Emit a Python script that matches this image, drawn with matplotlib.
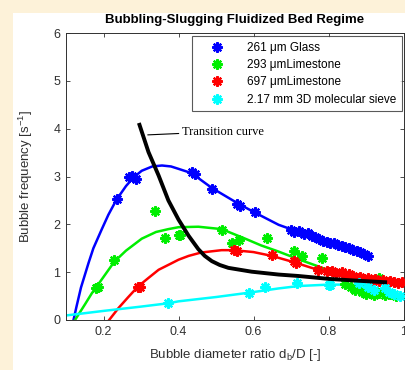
import matplotlib
matplotlib.use('Agg')
import matplotlib.pyplot as plt
from matplotlib.patches import Rectangle

# medidas (marcadores) por material
glass_x = [0.235, 0.268, 0.275, 0.286, 0.435, 0.445, 0.489, 0.555, 0.565, 0.605,
           0.700, 0.707, 0.720, 0.735, 0.745, 0.755, 0.765, 0.775, 0.785, 0.795,
           0.805, 0.815, 0.825, 0.835, 0.845, 0.855, 0.865, 0.875, 0.885, 0.895, 0.905]
glass_y = [2.54, 3.00, 3.02, 2.95, 3.09, 3.06, 2.74, 2.42, 2.38, 2.25,
           1.88, 1.84, 1.86, 1.80, 1.82, 1.76, 1.74, 1.70, 1.66, 1.64,
           1.62, 1.60, 1.56, 1.54, 1.52, 1.50, 1.46, 1.44, 1.42, 1.38, 1.34]

lime293_x = [0.179, 0.184, 0.229, 0.338, 0.364, 0.400, 0.405, 0.515, 0.543, 0.560,
             0.635, 0.707, 0.729, 0.782, 0.845, 0.860, 0.860, 0.870, 0.880, 0.890,
             0.900, 0.910, 0.920, 0.935, 0.935, 0.950, 0.965, 0.980]
lime293_y = [0.67, 0.70, 1.26, 2.28, 1.71, 1.77, 1.78, 1.89, 1.62, 1.68,
             1.72, 1.44, 1.33, 1.30, 0.75, 0.68, 0.92, 0.62, 0.70, 0.58,
             0.55, 0.60, 0.52, 0.56, 0.87, 0.52, 0.55, 0.50]

lime697_x = [0.292, 0.296, 0.547, 0.555, 0.649, 0.707, 0.712, 0.773, 0.795, 0.809,
             0.820, 0.835, 0.845, 0.855, 0.865, 0.875, 0.885, 0.895, 0.905, 0.915,
             0.925, 0.935, 0.945, 0.955, 0.965, 0.975, 0.985, 0.995]
lime697_y = [0.70, 0.68, 1.47, 1.44, 1.35, 1.23, 1.20, 1.05, 1.03, 1.02,
             0.98, 1.00, 0.94, 0.96, 0.92, 0.88, 0.90, 0.86, 0.88, 0.84,
             0.86, 0.82, 0.84, 0.80, 0.82, 0.80, 0.78, 0.80]

sieve_x = [0.373, 0.587, 0.631, 0.715, 0.800, 0.805, 0.880, 0.905, 0.920, 0.950, 0.960, 0.975, 0.990]
sieve_y = [0.36, 0.56, 0.70, 0.77, 0.74, 0.73, 0.77, 0.70, 0.62, 0.67, 0.58, 0.55, 0.50]

# curvas ajustadas
glass_fx = [0.120, 0.128, 0.140, 0.160, 0.173, 0.195, 0.213, 0.235, 0.260, 0.280, 0.302, 0.330,
            0.356, 0.380, 0.400, 0.435, 0.489, 0.560, 0.605, 0.667, 0.710, 0.750,
            0.800, 0.850, 0.910]
glass_fy = [0.00, 0.28, 0.68, 1.19, 1.50, 1.89, 2.20, 2.52, 2.80, 2.98, 3.12, 3.21,
            3.23, 3.21, 3.16, 3.07, 2.76, 2.43, 2.24, 1.99, 1.87, 1.77,
            1.64, 1.50, 1.34]

lime293_fx = [0.124, 0.150, 0.169, 0.180, 0.200, 0.229, 0.260, 0.302, 0.340, 0.373,
              0.400, 0.453, 0.515, 0.578, 0.620, 0.667, 0.720, 0.780, 0.845, 0.890,
              0.933, 0.970, 1.000]
lime293_fy = [0.00, 0.32, 0.56, 0.68, 0.90, 1.22, 1.45, 1.70, 1.84, 1.90,
              1.94, 1.95, 1.90, 1.70, 1.56, 1.43, 1.27, 1.10, 0.91, 0.76,
              0.63, 0.55, 0.49]

lime697_fx = [0.215, 0.240, 0.265, 0.292, 0.320, 0.347, 0.380, 0.400, 0.427, 0.460,
              0.515, 0.547, 0.600, 0.649, 0.707, 0.755, 0.800, 0.845, 0.900, 0.950, 1.000]
lime697_fy = [0.00, 0.25, 0.47, 0.70, 0.88, 1.05, 1.18, 1.26, 1.34, 1.41,
              1.46, 1.46, 1.42, 1.34, 1.21, 1.09, 0.99, 0.91, 0.86, 0.83, 0.81]

sieve_fx = [0.095, 0.200, 0.300, 0.373, 0.400, 0.500, 0.587, 0.667, 0.720, 0.800,
            0.850, 0.900, 0.950, 1.000]
sieve_fy = [0.09, 0.19, 0.28, 0.35, 0.39, 0.48, 0.57, 0.66, 0.71, 0.74,
            0.74, 0.70, 0.60, 0.45]

trans_x = [0.296, 0.320, 0.347, 0.373, 0.400, 0.427, 0.453, 0.470, 0.489, 0.510, 0.533, 0.595,
           0.667, 0.720, 0.800, 0.880, 0.951]
trans_y = [4.08, 3.51, 3.02, 2.50, 2.10, 1.76, 1.48, 1.34, 1.23, 1.15, 1.09, 1.01,
           0.95, 0.92, 0.86, 0.82, 0.79]

series = [
    ('261 μm Glass', glass_x, glass_y, glass_fx, glass_fy, '#0000ff'),
    ('293 μmLimestone', lime293_x, lime293_y, lime293_fx, lime293_fy, '#00ee00'),
    ('697 μmLimestone', lime697_x, lime697_y, lime697_fx, lime697_fy, '#ff0000'),
    ('2.17 mm 3D molecular sieve', sieve_x, sieve_y, sieve_fx, sieve_fy, '#00ffff'),
]

plt.rcParams['font.family'] = ['Liberation Sans', 'DejaVu Sans']

fig = plt.figure(figsize=(4.05, 3.70), dpi=100)
fig.patch.set_facecolor('#fdf2d9')
# fundo branco atrás do gráfico
fig.patches.append(Rectangle((13 / 405, 0), 1, 1 - 13 / 370, transform=fig.transFigure,
                             facecolor='white', edgecolor='none', zorder=-10))

ax = fig.add_axes([66 / 405, 1 - 320 / 370, (403.5 - 66) / 405, (320 - 33) / 370])
ax.set_zorder(1)

asterisk = (8, 2, 0)
handles = []
for nome, mx, my, fx, fy, cor in series:
    ax.plot(fx, fy, color=cor, lw=1.8, zorder=2)
    h, = ax.plot(mx, my, linestyle='none', marker=asterisk, color=cor,
                 markersize=7.5, markeredgewidth=1.6, label=nome, zorder=3)
    handles.append(h)

ax.plot(trans_x, trans_y, color='black', lw=2.8, zorder=4)
ax.annotate('Transition curve', xy=(0.318, 3.87), xytext=(0.408, 3.94),
            fontsize=9, family='Liberation Serif', va='center',
            arrowprops=dict(arrowstyle='-', color='black', lw=0.8,
                            shrinkA=0, shrinkB=0))

ax.set_xlim(0.1, 1.0)
ax.set_ylim(0, 6)
ax.set_xticks([0.2, 0.4, 0.6, 0.8, 1.0])
ax.set_xticklabels(['0.2', '0.4', '0.6', '0.8', '1'])
ax.set_yticks(range(7))
ax.tick_params(direction='in', top=True, right=True, length=3, width=0.6,
               labelsize=9, colors='#303030', pad=4)
for s in ax.spines.values():
    s.set_linewidth(0.7)
    s.set_color('#303030')

ax.set_title('Bubbling-Slugging Fluidized Bed Regime', fontsize=9.5,
             fontweight='bold', pad=7)
ax.set_xlabel('Bubble diameter ratio d$_{\\mathregular{b}}$/D [-]', fontsize=9.5,
              color='#303030', labelpad=7)
ax.set_ylabel('Bubble frequency [s$^{\\mathregular{-1}}$]', fontsize=9.5,
              color='#303030', labelpad=13)

leg = ax.legend(handles=handles, loc='upper right', fontsize=8.5, frameon=True,
                fancybox=False, borderaxespad=0.0, handlelength=3.2,
                handletextpad=1.0, borderpad=0.45, labelspacing=0.45,
                bbox_to_anchor=(0.995, 0.988))
leg.get_frame().set_edgecolor('#303030')
leg.get_frame().set_linewidth(0.8)

plt.savefig('out.png', dpi=100, facecolor=fig.get_facecolor())
plt.close()
